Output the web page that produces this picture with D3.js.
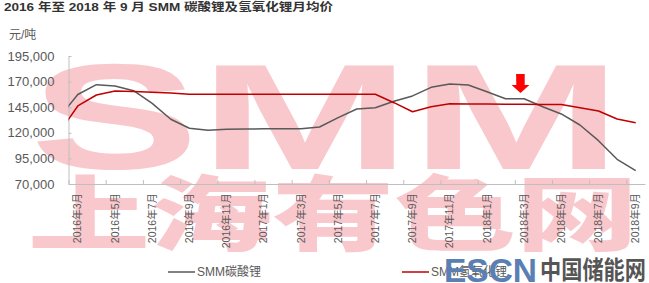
<!DOCTYPE html>
<html>
<head>
<meta charset="utf-8">
<script src="https://cdn.jsdelivr.net/npm/d3@7"></script>
<style>
  body { margin: 0; background: #fff; }
  #container { width: 649px; height: 283px; }
  text { font-family: "Liberation Sans", Arial, "Noto Sans CJK SC", sans-serif; }
</style>
</head>
<body>
<div id="container"></div>
<script>
// months, first one (2016年2月) sits left of the axis and is clipped away
const months = ["2016年2月",
  "2016年3月","2016年4月","2016年5月","2016年6月","2016年7月","2016年8月","2016年9月","2016年10月","2016年11月","2016年12月",
  "2017年1月","2017年2月","2017年3月","2017年4月","2017年5月","2017年6月","2017年7月","2017年8月","2017年9月","2017年10月","2017年11月","2017年12月",
  "2018年1月","2018年2月","2018年3月","2018年4月","2018年5月","2018年6月","2018年7月","2018年8月","2018年9月"];

// SMM碳酸锂, 元/吨
const carbonate = [134900,
  157400, 167000, 165700, 161100, 148800, 133200, 124400, 122400, 123400, 123700,
  123900, 123900, 123900, 125700, 134800, 143200, 144500, 150800, 156000, 164400, 167700, 166700,
  160100, 153300, 153300, 145500, 138400, 127600, 112300, 94100, 83000];

// SMM氢氧化锂, 元/吨
const hydroxide = [120200,
  146200, 156900, 160800, 160300, 159600, 158800, 157600, 157600, 157600, 157600,
  157600, 157600, 157600, 157600, 157600, 157600, 157600, 149400, 140600, 145500, 148300, 148200,
  148100, 148000, 147900, 147700, 147600, 144500, 141300, 133500, 129900];

const yTicks = [70000, 95000, 120000, 145000, 170000, 195000];
const seriesNames = ["SMM碳酸锂", "SMM氢氧化锂"];
const seriesColors = ["#595959", "#c00000"];

const W = 649, H = 283;
const svg = d3.select("#container").append("svg")
  .attr("width", W).attr("height", H);

const plotLeft = 68.5, plotRight = 645, plotTop = 56, plotBottom = 184;

// watermark
const wm = svg.append("g").attr("class", "watermark").attr("fill", "#f9c8cc");
wm.append("text")
  .attr("x", 30).attr("y", 169)
  .attr("textLength", 592).attr("lengthAdjust", "spacingAndGlyphs")
  .attr("font-family", "DejaVu Sans").attr("font-weight", 900)
  .attr("font-size", 150)
  .text("SMM");
wm.append("text")
  .attr("x", 28).attr("y", 244)
  .attr("textLength", 610).attr("lengthAdjust", "spacingAndGlyphs")
  .attr("font-family", "Noto Sans CJK SC").attr("font-weight", 900)
  .attr("font-size", 82)
  .text("上海有色网");

// title
svg.append("text")
  .attr("x", 4).attr("y", 11)
  .attr("font-size", 11.5).attr("font-weight", "bold").attr("fill", "#333")
  .attr("textLength", 329).attr("lengthAdjust", "spacingAndGlyphs")
  .text("2016 年至 2018 年 9 月 SMM 碳酸锂及氢氧化锂月均价");

svg.append("text")
  .attr("x", 9).attr("y", 39)
  .attr("font-size", 12).attr("fill", "#595959")
  .text("元/吨");

// scales: index 0 = 2016年3月, -1 = 2016年2月
const x = d3.scaleLinear().domain([-0.5, 30.5]).range([plotLeft, plotRight]);
const xBand = d3.scaleBand().domain(months.slice(1)).range([plotLeft, plotRight]);
const y = d3.scaleLinear().domain([70000, 195000]).range([plotBottom, plotTop]);

// y axis
const yAxis = svg.append("g")
  .attr("transform", "translate(" + plotLeft + ",0)")
  .call(d3.axisLeft(y).tickValues(yTicks).tickSizeInner(-3).tickSizeOuter(0)
    .tickPadding(14).tickFormat(d3.format(",")));
yAxis.select(".domain").attr("stroke", "#bfbfbf");
yAxis.selectAll("line").attr("stroke", "#bfbfbf");
yAxis.selectAll("text").attr("font-size", 13).attr("fill", "#595959")
  .attr("font-family", "Liberation Sans, Arial, sans-serif");

// x axis tick marks between categories, every 2 months
const boundaries = d3.range(0, 16).map(k => k * 2 - 0.5);
const xAxis = svg.append("g")
  .attr("transform", "translate(0," + plotBottom + ")")
  .call(d3.axisBottom(x).tickValues(boundaries).tickSizeInner(-4).tickSizeOuter(0)
    .tickFormat(""));
xAxis.select(".domain").attr("stroke", "#bfbfbf");
xAxis.selectAll("line").attr("stroke", "#bfbfbf");

// x labels
const xLab = svg.append("g")
  .attr("transform", "translate(0," + plotBottom + ")")
  .call(d3.axisBottom(xBand).tickValues(months.slice(1).filter((d, i) => i % 2 == 0)).tickSize(0));
xLab.select(".domain").remove();
xLab.selectAll("text")
  .attr("transform", "rotate(-90)")
  .attr("text-anchor", "end")
  .attr("x", -9).attr("y", 0).attr("dy", "0.35em")
  .attr("font-size", 10.5).attr("fill", "#595959")
  .attr("font-family", "Liberation Sans, Arial, 'Noto Sans CJK SC', sans-serif");

// clip to plot area
svg.append("clipPath").attr("id", "plotclip")
  .append("rect").attr("x", plotLeft).attr("y", 0).attr("width", plotRight - plotLeft).attr("height", plotBottom);

const line = d3.line()
  .x((d, i) => x(i - 1))
  .y(d => y(d));

const lines = svg.append("g").attr("clip-path", "url(#plotclip)");
[carbonate, hydroxide].forEach((s, k) => {
  lines.append("path")
    .datum(s)
    .attr("d", line)
    .attr("fill", "none")
    .attr("stroke", seriesColors[k])
    .attr("stroke-width", 1.5)
    .attr("stroke-linejoin", "round");
});

// red arrow above 2018年3月
const ax = x(23.8), ay = y(158800);
svg.append("path")
  .attr("d", "M" + (ax - 4.3) + "," + (ay - 19) + "h8.6v11h4.7l-8.9,8l-8.9,-8h4.7z")
  .attr("fill", "#ff0000");

// legend
const legend = svg.append("g").attr("class", "legend");
const legX = [168, 402];
seriesNames.forEach((n, k) => {
  const g = legend.append("g").attr("transform", "translate(" + legX[k] + ",272)");
  g.append("line").attr("x1", 0).attr("x2", 27).attr("y1", 0).attr("y2", 0)
    .attr("stroke", seriesColors[k]).attr("stroke-width", 1.5);
  g.append("text").attr("x", 29).attr("y", 0).attr("dy", "0.35em")
    .attr("font-size", 12).attr("fill", "#595959")
    .attr("font-family", "Liberation Sans, Arial, 'Noto Sans CJK SC', sans-serif")
    .text(n);
});

// ESCN logo
svg.append("text")
  .attr("x", 444).attr("y", 282)
  .attr("font-size", 33).attr("font-weight", "bold").attr("fill", "#5b7fb3")
  .attr("textLength", 93).attr("lengthAdjust", "spacingAndGlyphs")
  .attr("font-family", "Liberation Sans, Arial, sans-serif")
  .text("ESCN");
svg.append("text")
  .attr("x", 540).attr("y", 279)
  .attr("font-size", 25).attr("font-weight", "bold").attr("fill", "#555")
  .attr("textLength", 106).attr("lengthAdjust", "spacingAndGlyphs")
  .attr("font-family", "Noto Sans CJK SC")
  .text("中国储能网");
</script>
</body>
</html>
